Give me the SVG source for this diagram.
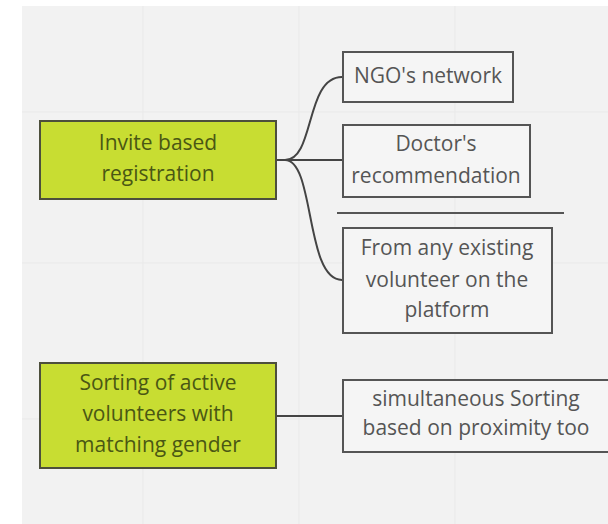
<svg xmlns="http://www.w3.org/2000/svg" width="608" height="524" viewBox="0 0 608 524">
<style>
.bg{fill:#f2f2f2}
.grid{stroke:#e9e9e9;stroke-width:1;fill:none}
.green rect{fill:#c8dd32;stroke:#4d4f3c;stroke-width:2}
.white rect{fill:#f5f5f5;stroke:#555;stroke-width:2}
text{font-family:"Open Sans","DejaVu Sans",sans-serif;font-size:21px;text-anchor:middle}
.green text{fill:#4a5714}
.white text{fill:#555}
.conn path,.conn line{stroke:#444;stroke-width:2;fill:none}
</style>
<rect width="608" height="524" fill="#ffffff"/>
<rect class="bg" x="22" y="6" width="586" height="518"/>
<g class="grid">
<line x1="143" y1="6" x2="143" y2="524"/>
<line x1="299" y1="6" x2="299" y2="524"/>
<line x1="455" y1="6" x2="455" y2="524"/>
<line x1="22" y1="112" x2="608" y2="112"/>
<line x1="22" y1="263" x2="608" y2="263"/>
<line x1="22" y1="419" x2="608" y2="419"/>
</g>
<g class="conn" id="connectors">
<line x1="276" y1="160" x2="286" y2="160" stroke-width="3"/>
<path d="M285 160 C315 160 305 77 342 77"/>
<line x1="285" y1="160" x2="342" y2="160"/>
<path d="M285 160 C315 160 305 280 342 280"/>
<line x1="276" y1="416" x2="342" y2="416"/>
</g>
<line id="divider" x1="337" y1="213" x2="564" y2="213" stroke="#555" stroke-width="2"/>
<g id="invite" class="green">
<rect x="40" y="121" width="236" height="78"/>
<text x="158" y="150">Invite based</text>
<text x="158" y="181">registration</text>
</g>
<g id="ngo" class="white">
<rect x="343" y="52" width="170" height="50"/>
<text x="428" y="83">NGO's network</text>
</g>
<g id="doctor" class="white">
<rect x="343" y="125" width="187" height="72"/>
<text x="436" y="151">Doctor's</text>
<text x="436" y="183">recommendation</text>
</g>
<g id="existing" class="white">
<rect x="343" y="228" width="209" height="105"/>
<text x="447" y="255">From any existing</text>
<text x="447" y="287">volunteer on the</text>
<text x="447" y="317">platform</text>
</g>
<g id="sorting" class="green">
<rect x="40" y="363" width="236" height="105"/>
<text x="158" y="390">Sorting of active</text>
<text x="158" y="421">volunteers with</text>
<text x="158" y="452">matching gender</text>
</g>
<g id="proximity" class="white">
<rect x="343" y="380" width="280" height="72"/>
<text x="476" y="406">simultaneous Sorting</text>
<text x="476" y="435">based on proximity too</text>
</g>
</svg>
